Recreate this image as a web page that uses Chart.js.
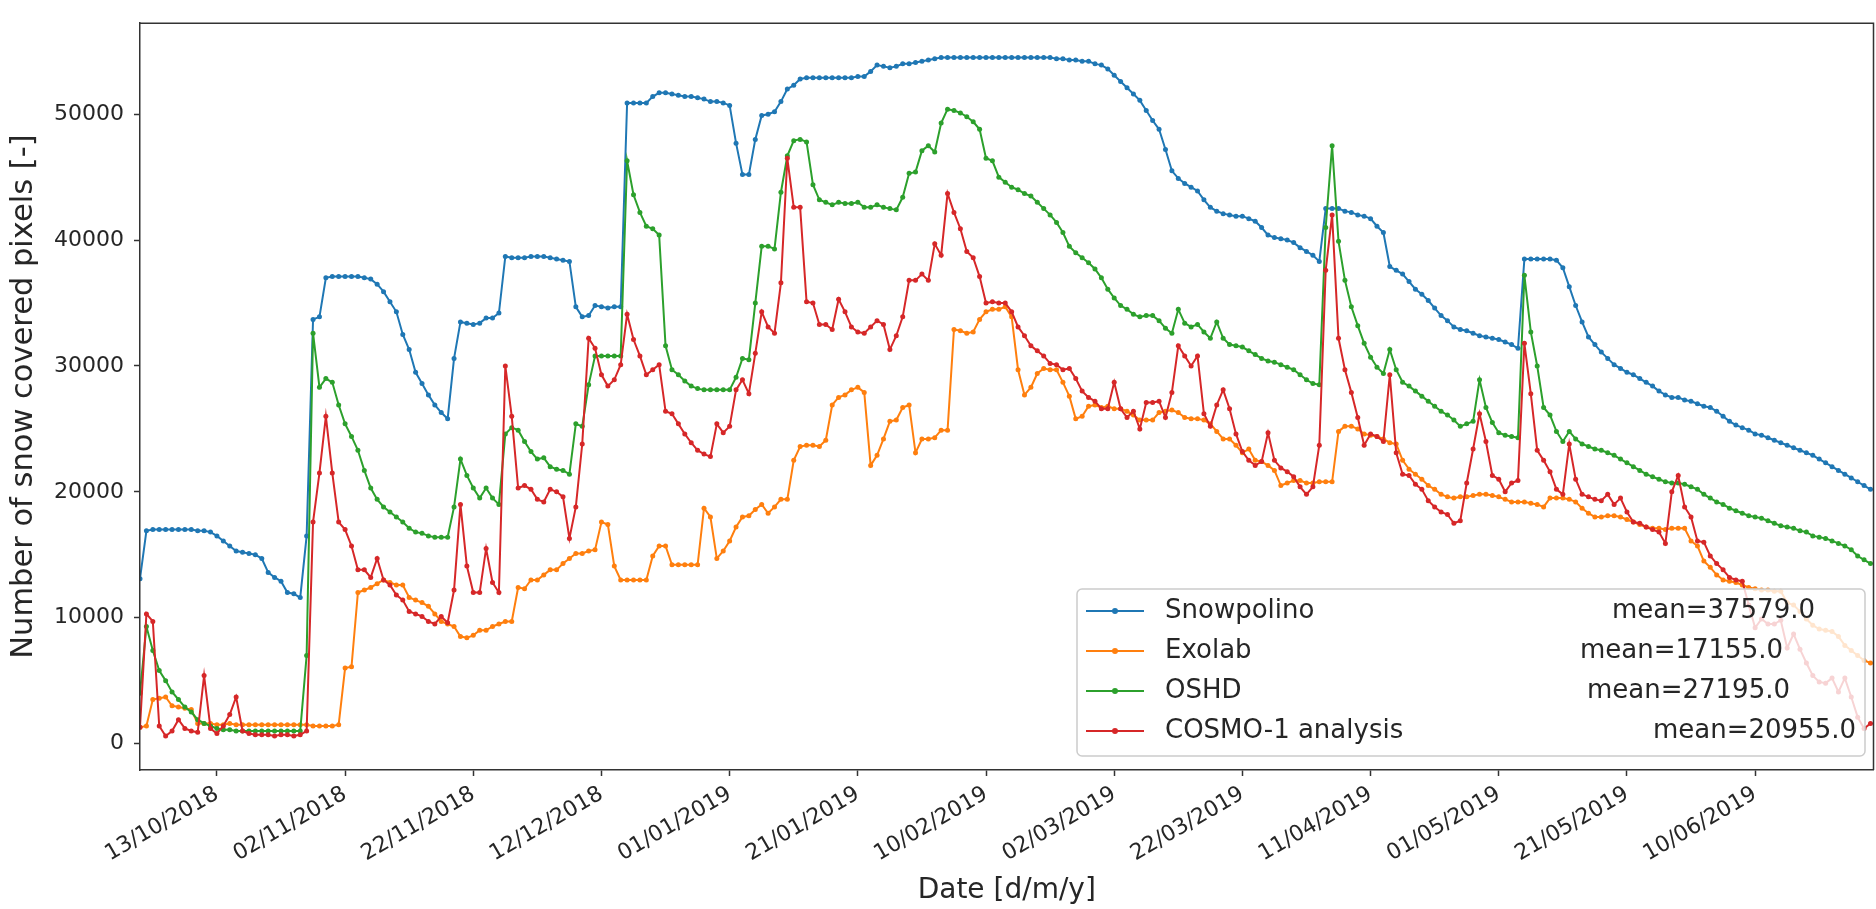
<!DOCTYPE html>
<html>
<head>
<meta charset="utf-8">
<script src="https://cdn.jsdelivr.net/npm/chart.js@4.4.0/dist/chart.umd.min.js"></script>
<style>
  html, body { margin: 0; padding: 0; background: #fff; }
  #wrap { width: 1876px; height: 909px; }
</style>
</head>
<body>
<div id="wrap"><canvas id="snowChart" width="1876" height="909"></canvas></div>
<script>
// One value per day, first day is 01/10/2018 (day 0)
const snowpolino = [
  13100,16900,17000,17000,17000,17000,17000,17000,17000,16900,
  16900,16800,16500,16100,15700,15300,15200,15100,15000,14700,
  13600,13200,12900,12000,11900,11600,16500,33700,33900,37000,
  37100,37100,37100,37100,37100,37000,36900,36500,35900,35100,
  34300,32500,31300,29500,28600,27700,26900,26300,25800,30600,
  33500,33400,33300,33400,33800,33800,34200,38700,38600,38600,
  38600,38700,38700,38700,38600,38500,38400,38300,34700,33900,
  34000,34800,34700,34600,34700,34700,50900,50900,50900,50900,
  51400,51700,51700,51600,51500,51400,51400,51300,51200,51000,
  51000,50900,50700,47700,45200,45200,48000,49900,50000,50200,
  51000,52000,52300,52800,52900,52900,52900,52900,52900,52900,
  52900,52900,53000,53000,53400,53900,53800,53700,53800,54000,
  54000,54100,54200,54300,54400,54500,54500,54500,54500,54500,
  54500,54500,54500,54500,54500,54500,54500,54500,54500,54500,
  54500,54500,54500,54400,54400,54300,54300,54200,54200,54000,
  53900,53600,53100,52600,52100,51600,51100,50300,49500,48800,
  47200,45500,44900,44500,44200,43900,43200,42600,42300,42100,
  42000,41900,41900,41700,41500,41000,40400,40200,40100,40000,
  39800,39400,39100,38800,38300,42500,42500,42500,42300,42200,
  42000,41900,41700,41100,40600,37900,37600,37300,36700,36100,
  35700,35200,34600,34000,33600,33100,32900,32800,32600,32400,
  32300,32200,32100,31900,31700,31400,38500,38500,38500,38500,
  38500,38400,37800,36300,34800,33500,32300,31700,31100,30600,
  30100,29800,29500,29300,29000,28700,28400,28000,27700,27500,
  27500,27300,27200,27000,26800,26700,26400,26000,25600,25300,
  25100,24900,24600,24500,24300,24100,23900,23700,23500,23300,
  23100,22900,22600,22300,22000,21700,21400,21100,20800,20500,
  20200
];

const exolab = [
  1300,1400,3500,3600,3700,3000,2900,2800,2700,1600,
  1600,1600,1500,1500,1600,1500,1500,1500,1500,1500,
  1500,1500,1500,1500,1500,1500,1500,1400,1400,1400,
  1400,1500,6000,6100,12000,12200,12400,12700,13000,12800,
  12600,12600,11600,11400,11200,10900,10300,9700,9500,9300,
  8500,8400,8600,9000,9000,9300,9500,9700,9700,12400,
  12300,13000,13000,13400,13800,13800,14300,14700,15100,15100,
  15300,15400,17600,17400,14100,13000,13000,13000,13000,13000,
  14900,15700,15700,14200,14200,14200,14200,14200,18700,18000,
  14700,15300,16100,17200,18000,18100,18600,19000,18300,18800,
  19400,19400,22500,23600,23700,23700,23600,24100,26900,27500,
  27700,28100,28300,27900,22100,22900,24200,25600,25700,26700,
  26900,23100,24200,24200,24300,24900,24900,32900,32800,32600,
  32700,33700,34300,34500,34500,34700,33900,29700,27700,28300,
  29400,29800,29700,29700,28700,27600,25800,26000,26800,26900,
  26700,26800,26600,26600,26400,26100,25700,25700,25700,26300,
  26400,26500,26300,25900,25800,25800,25700,25400,24800,24200,
  24200,23700,23100,23400,22500,22400,22100,21700,20500,20700,
  20900,20900,20700,20700,20800,20800,20800,24800,25200,25200,
  25000,24600,24500,24400,24200,23900,23800,22500,21800,21400,
  21000,20500,20200,19800,19600,19500,19600,19600,19700,19800,
  19800,19700,19600,19400,19200,19200,19200,19100,19000,18800,
  19500,19500,19500,19400,19200,18700,18300,18000,18000,18100,
  18100,18000,17800,17600,17400,17200,17100,17100,17000,17100,
  17100,17100,16100,15700,14500,14000,13400,13000,12900,12800,
  12600,12400,12300,12200,12200,12100,12100,11200,11000,10500,
  9900,9400,9100,9000,8900,8500,7800,7400,7000,6600,
  6400
];

const oshd = [
  4000,9300,7400,5800,5000,4100,3500,2900,2500,1900,
  1600,1400,1200,1100,1100,1000,1000,1000,1000,1000,
  1000,1000,1000,1000,1000,1000,7000,32600,28300,29000,
  28700,26900,25400,24400,23300,21700,20300,19400,18800,18400,
  18000,17600,17100,16800,16700,16500,16400,16400,16400,18800,
  22600,21300,20300,19500,20300,19500,19000,24600,25100,24900,
  24000,23200,22600,22700,22000,21800,21700,21400,25400,25200,
  28500,30800,30800,30800,30800,30800,46300,43600,42200,41100,
  40900,40400,31600,29700,29300,28800,28400,28200,28100,28100,
  28100,28100,28100,29100,30600,30500,35000,39500,39500,39300,
  43800,46700,47900,48000,47800,44400,43200,43000,42800,43000,
  42900,42900,43000,42600,42600,42800,42600,42500,42400,43400,
  45300,45400,47100,47500,47000,49300,50400,50300,50100,49800,
  49400,48800,46500,46300,45000,44600,44200,44000,43700,43500,
  43000,42500,42000,41400,40600,39500,39000,38600,38200,37700,
  37000,36100,35400,34800,34500,34100,33900,34000,34000,33600,
  33000,32600,34500,33400,33100,33300,32700,32200,33500,32200,
  31700,31600,31500,31200,30900,30600,30400,30300,30100,29900,
  29700,29300,28900,28600,28500,41000,47500,39900,36800,34700,
  33200,31800,30700,29900,29400,31300,29700,28700,28400,28000,
  27600,27200,26800,26400,26100,25700,25200,25400,25600,28900,
  26700,25500,24700,24500,24400,24300,37200,32700,30000,26700,
  26100,24800,24000,24800,24200,23800,23600,23400,23300,23100,
  22900,22600,22300,22000,21700,21400,21200,21000,20800,20700,
  20700,20600,20400,20200,19800,19500,19200,19000,18700,18500,
  18300,18100,18000,17900,17700,17500,17300,17200,17100,16900,
  16800,16500,16400,16300,16100,15900,15700,15400,14900,14600,
  14300
];

const cosmo = [
  1300,10300,9700,1400,600,1000,1900,1200,1000,900,
  5400,1200,800,1400,2300,3700,1000,800,700,700,
  700,600,700,700,600,700,1000,17600,21500,26000,
  21500,17600,17000,15700,13800,13800,13200,14700,13000,12600,
  11800,11400,10500,10300,10100,9700,9500,10100,9600,12200,
  19000,14100,12000,12000,15500,12800,12000,30000,26000,20300,
  20500,20200,19400,19200,20200,20000,19600,16300,18800,23800,
  32200,31400,29300,28400,28900,30100,34100,32100,30800,29300,
  29700,30100,26400,26200,25400,24600,23900,23300,23000,22800,
  25400,24700,25200,28100,28900,27800,31000,34300,33100,32600,
  36600,46500,42600,42600,35100,35000,33300,33300,32900,35300,
  34300,33100,32700,32600,33100,33600,33300,31300,32400,33900,
  36800,36800,37300,36800,39700,38800,43700,42200,40900,39100,
  38600,37100,35000,35100,35000,35000,34300,33100,32400,31600,
  31200,30800,30200,30100,29700,29800,29000,28000,27500,27200,
  26600,26600,28700,26600,25900,26400,25000,27100,27100,27200,
  25900,27900,31600,30800,30000,30800,26200,25200,26900,28100,
  26600,24600,23200,22500,22100,22400,24700,22500,21900,21600,
  21200,20400,19800,20400,23700,37600,42000,32200,29700,27900,
  25900,23700,24600,24400,24000,29300,23100,21400,21300,20600,
  20200,19300,18800,18400,18200,17500,17700,20700,23400,26200,
  24000,21300,21000,20000,20700,20900,31800,27800,23300,22500,
  21600,20200,19800,23800,21000,19800,19600,19400,19300,19800,
  19000,19500,18400,17600,17500,17200,17000,16800,15900,20000,
  21300,18800,18000,16100,16000,14900,14300,13800,13200,13000,
  12900,11000,9200,9900,9500,9500,9800,7600,8700,7500,
  6400,5400,4900,4800,5200,4100,5200,3700,2100,1200,
  1600
];

const seriesNames = ['Snowpolino', 'Exolab', 'OSHD', 'COSMO-1 analysis'];
const meanLabels = ['mean=37579.0', 'mean=17155.0', 'mean=27195.0', 'mean=20955.0'];

// x ticks: day number counted from 01/10/2018
const xTickDays = [12, 32, 52, 72, 92, 112, 132, 152, 172, 192, 212, 232, 252];
const xTickLabels = ['13/10/2018', '02/11/2018', '22/11/2018', '12/12/2018', '01/01/2019',
  '21/01/2019', '10/02/2019', '02/03/2019', '22/03/2019', '11/04/2019', '01/05/2019',
  '21/05/2019', '10/06/2019'];
const yTicks = [0, 10000, 20000, 30000, 40000, 50000];

const colors = ['#1f77b4', '#ff7f0e', '#2ca02c', '#d62728'];
const series = [snowpolino, exolab, oshd, cosmo];
const days = snowpolino.map((v, i) => i);

const textColor = '#262626';
const axisColor = '#333333';
const fontFamily = "'DejaVu Sans', sans-serif";

// top and right spines
const framePlugin = {
    id: 'frame',
    afterDatasetsDraw(chart) {
        const { ctx, chartArea } = chart;
        ctx.save();
        ctx.strokeStyle = axisColor;
        ctx.lineWidth = 1.5;
        ctx.beginPath();
        ctx.moveTo(chartArea.left, chartArea.top);
        ctx.lineTo(chartArea.right, chartArea.top);
        ctx.lineTo(chartArea.right, chartArea.bottom);
        ctx.stroke();
        ctx.restore();
    }
};

// matplotlib-like legend box inside the plot
const legendPlugin = {
    id: 'boxLegend',
    afterDraw(chart) {
        const ctx = chart.ctx;
        const box = { x: 1077, y: 589, w: 788, h: 167 };
        const meanRight = [1815, 1783, 1790, 1856];
        ctx.save();
        ctx.beginPath();
        ctx.roundRect(box.x, box.y, box.w, box.h, 5);
        ctx.fillStyle = 'rgba(255,255,255,0.8)';
        ctx.fill();
        ctx.strokeStyle = '#cccccc';
        ctx.lineWidth = 1.5;
        ctx.stroke();

        ctx.font = '26px ' + fontFamily;
        ctx.textBaseline = 'middle';
        seriesNames.forEach((name, i) => {
            const y = 611 + i * 40;
            ctx.strokeStyle = colors[i];
            ctx.lineWidth = 2;
            ctx.beginPath();
            ctx.moveTo(1086, y);
            ctx.lineTo(1144, y);
            ctx.stroke();
            ctx.fillStyle = colors[i];
            ctx.beginPath();
            ctx.arc(1115, y, 3, 0, Math.PI * 2);
            ctx.fill();

            ctx.fillStyle = textColor;
            ctx.textAlign = 'left';
            ctx.fillText(name, 1165, y);
            ctx.textAlign = 'right';
            ctx.fillText(meanLabels[i], meanRight[i], y);
        });
        ctx.restore();
    }
};

const ctx = document.getElementById('snowChart').getContext('2d');

new Chart(ctx, {
    type: 'line',
    data: {
        labels: days,
        datasets: series.map((values, i) => ({
            label: seriesNames[i],
            data: values,
            borderColor: colors[i],
            backgroundColor: colors[i],
            borderWidth: 2,
            pointRadius: 2.5,
            pointBorderWidth: 0,
            pointHoverRadius: 2.5,
            tension: 0,
            fill: false,
            order: 3 - i
        }))
    },
    options: {
        responsive: false,
        devicePixelRatio: 1,
        animation: false,
        layout: { padding: { top: 9, left: 0, right: 0, bottom: 0 } },
        plugins: {
            legend: { display: false },
            tooltip: { enabled: false }
        },
        scales: {
            x: {
                type: 'linear',
                min: 0,
                max: 270.47,
                afterBuildTicks: (scale) => {
                    scale.ticks = xTickDays.map(v => ({ value: v }));
                },
                afterFit: (scale) => { scale.height = 139; },
                ticks: {
                    autoSkip: false,
                    minRotation: 30,
                    maxRotation: 30,
                    padding: 5,
                    color: textColor,
                    font: { family: fontFamily, size: 22 },
                    callback: (value, index) => xTickLabels[index]
                },
                grid: {
                    drawOnChartArea: false,
                    drawTicks: true,
                    tickLength: 6,
                    tickColor: axisColor,
                    tickWidth: 1.5
                },
                border: { display: true, color: axisColor, width: 1.5, z: 1 },
                title: {
                    display: true,
                    text: 'Date [d/m/y]',
                    color: textColor,
                    font: { family: fontFamily, size: 28 },
                    padding: { top: 0, bottom: 1 }
                }
            },
            y: {
                min: -2100,
                max: 57230,
                afterBuildTicks: (scale) => {
                    scale.ticks = yTicks.map(v => ({ value: v }));
                },
                afterFit: (scale) => { scale.width = 140; },
                ticks: {
                    padding: 10,
                    color: textColor,
                    font: { family: fontFamily, size: 22 },
                    callback: (value) => String(value)
                },
                grid: {
                    drawOnChartArea: false,
                    drawTicks: true,
                    tickLength: 6,
                    tickColor: axisColor,
                    tickWidth: 1.5
                },
                border: { display: true, color: axisColor, width: 1.5, z: 1 },
                title: {
                    display: true,
                    text: 'Number of snow covered pixels [-]',
                    color: textColor,
                    font: { family: fontFamily, size: 30.5 },
                    padding: { top: 6, bottom: 0 }
                }
            }
        }
    },
    plugins: [framePlugin, legendPlugin]
});
</script>
</body>
</html>
